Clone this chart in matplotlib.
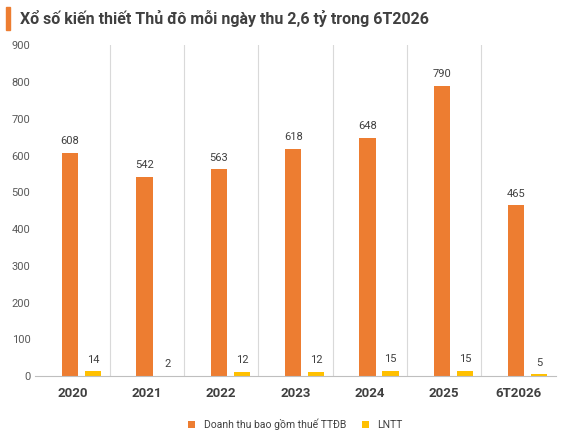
import matplotlib
matplotlib.use("Agg")
import matplotlib.pyplot as plt
import numpy as np

categories = ["2020", "2021", "2022", "2023", "2024", "2025", "6T2026"]
revenue = [608, 542, 563, 618, 648, 790, 465]
profit = [14, 2, 12, 12, 15, 15, 5]
title = "Xổ số kiến thiết Thủ đô mỗi ngày thu 2,6 tỷ trong 6T2026"

plt.rcParams['font.family'] = ['Roboto', 'DejaVu Sans']
fig = plt.figure(figsize=(5.67, 4.34), dpi=100)
ax = fig.add_axes([0.062, 0.133, 0.918, 0.763])
x = np.arange(len(categories))
w = 0.22
c1, c2 = "#ED7D31", "#FFC000"
ax.bar(x - 0.03, revenue, w, color=c1, label="Doanh thu bao gồm thuế TTĐB")
ax.bar(x + 0.28, profit, w, color=c2, label="LNTT")
for i in range(len(x)):
    ax.text(x[i] - 0.03, revenue[i] + 18, str(revenue[i]), ha="center", va="bottom", fontsize=8, color="#404040")
    ax.text(x[i] + 0.28, profit[i] + 18, str(profit[i]), ha="center", va="bottom", fontsize=8, color="#404040")
ax.set_xlim(-0.5, len(x) - 0.5)
ax.set_ylim(0, 900)
ax.set_yticks(range(0, 901, 100))
ax.set_xticks(x)
ax.set_xticklabels(categories, fontweight="bold", fontsize=9.5, color="#404040")
ax.tick_params(axis="y", labelsize=8, colors="#595959", length=0)
ax.tick_params(axis="x", length=0, pad=8)
for xv in np.arange(0.5, len(x) - 0.5, 1):
    ax.axvline(xv, color="#D9D9D9", lw=0.8, zorder=0)
for s in ["top", "right", "left"]:
    ax.spines[s].set_visible(False)
ax.spines["bottom"].set_color("#BFBFBF")
ax.legend(loc="upper center", bbox_to_anchor=(0.5, -0.1), ncol=2, frameon=False, fontsize=7.5,
          handlelength=0.7, handleheight=0.7, columnspacing=1.5, labelcolor="#404040")
fig.patches.append(plt.Rectangle((0.01, 0.93), 0.008, 0.055, color=c1, transform=fig.transFigure))
fig.text(0.035, 0.957, title, fontsize=11.5, fontweight="bold", color="#404040", va="center")
fig.savefig("out.png", dpi=100)
